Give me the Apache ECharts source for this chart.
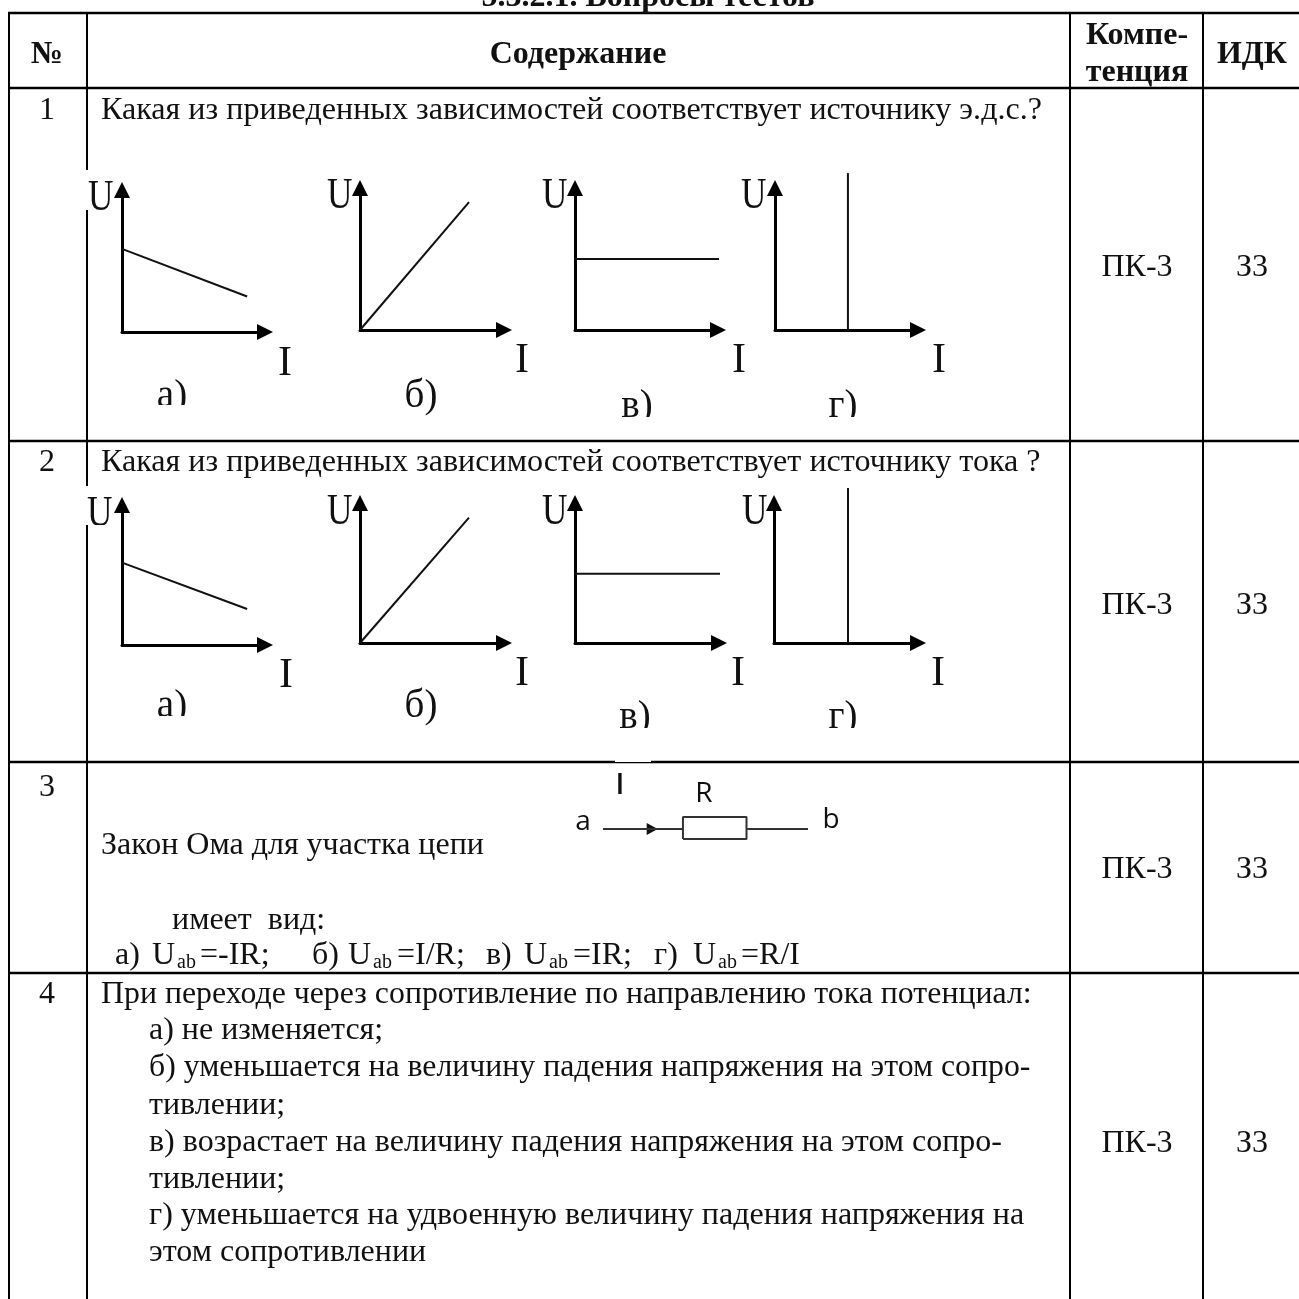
<!DOCTYPE html>
<html>
<head>
<meta charset="utf-8">
<title>Вопросы тестов</title>
<script src="https://cdn.jsdelivr.net/npm/echarts@6/dist/echarts.min.js"></script>
<style>
html, body { margin: 0; padding: 0; background: #fff; }
#main { width: 1299px; height: 1299px; }
</style>
</head>
<body>
<div id="main"></div>
<script>
// значения кривых (оси 0..10), читаются с картинки
const panelNames = ['а)', 'б)', 'в)', 'г)'];
const row1_I = [[0, 8.75], [0, 7.57], [0, 10.3], [5.1, 5.1]];
const row1_U = [[5.85, 2.5], [0, 9.0], [5.0, 5.0], [0, 11.05]];
const row2_I = [[0, 8.75], [0, 7.57], [0, 10.3], [5.14, 5.14]];
const row2_U = [[5.88, 2.57], [0, 8.95], [4.95, 4.95], [0, 11.07]];

// схема резистора (a -> R -> b)
const wire_x = [0, 39];
const wire_y = [4.5, 4.5];
const wire2_x = [70, 100];
const wire2_y = [4.5, 4.5];
const resistor_x = [39, 70, 70, 39, 39];
const resistor_y = [0, 0, 10, 10, 0];
const arrow_x = [24];
const arrow_y = [4.5];

const serif = '"Liberation Serif", "Times New Roman", serif';
const sans = '"Open Sans", sans-serif';
const BODY = 32;

// расположение графиков: начало координат, ширина, высота
const panelBoxes = [
  [122, 332, 143, 142], [360, 330, 144, 142], [575, 330, 143, 142], [775, 330, 143, 142],
  [122, 645, 143, 140], [360, 643, 144, 140], [575, 643, 144, 140], [774, 643, 144, 140]
];

// текст, x, базовая линия, выравнивание, сжатие строки
const bodyTexts = [
  ['1', 47, 119, 'center'],
  ['Какая из приведенных зависимостей соответствует источнику э.д.с.?', 101, 119, 'left', 1.003],
  ['2', 47, 471, 'center'],
  ['Какая из приведенных зависимостей соответствует источнику тока ?', 101, 471, 'left', 1.003],
  ['3', 47, 796, 'center'],
  ['Закон Ома для участка цепи', 101, 854],
  ['имеет  вид:', 172, 929],
  ['4', 47, 1003, 'center'],
  ['При переходе через сопротивление по направлению тока потенциал:', 101, 1003, 'left', 0.995],
  ['а) не изменяется;', 149, 1039],
  ['б) уменьшается на величину падения напряжения на этом сопро-', 149, 1076, 'left', 0.993],
  ['тивлении;', 149, 1114],
  ['в) возрастает на величину падения напряжения на этом сопро-', 149, 1151],
  ['тивлении;', 149, 1188],
  ['г) уменьшается на удвоенную величину падения напряжения на', 149, 1224, 'left', 1.002],
  ['этом сопротивлении', 149, 1261],
  ['ПК-3', 1137, 276, 'center'],
  ['З3', 1252, 276, 'center'],
  ['ПК-3', 1137, 614, 'center'],
  ['З3', 1252, 614, 'center'],
  ['ПК-3', 1137, 878, 'center'],
  ['З3', 1252, 878, 'center'],
  ['ПК-3', 1137, 1152, 'center'],
  ['З3', 1252, 1152, 'center']
];

const boldTexts = [
  ['5.3.2.1. Вопросы тестов', 648, 6, 'center'],
  ['№', 47, 63, 'center'],
  ['Содержание', 578, 63, 'center'],
  ['Компе-', 1137, 44, 'center'],
  ['тенция', 1137, 81, 'center'],
  ['ИДК', 1252, 63, 'center']
];

// формулы в строке ответа
const formulaTexts = [
  ['а)', 115], ['U', 152], ['=-IR;', 200],
  ['б)', 312], ['U', 348], ['=I/R;', 397],
  ['в)', 486], ['U', 524], ['=IR;', 573],
  ['г)', 654], ['U', 693], ['=R/I', 741]
];
const subX = [177, 373, 549, 718];

// подписи осей на графиках
const axisU = [[88, 210], [327, 208], [542, 208], [741, 208], [87, 526], [327, 524], [542, 524], [742, 524]];
const axisI = [[285, 375], [522, 372], [739, 372], [939, 372], [286, 687], [522, 685], [738, 685], [938, 685]];
const panelLabels = [[172, 407], [421, 407], [637, 417], [843, 417], [172, 717], [421, 717], [635, 728], [843, 728]];

const hLines = [13, 88, 441, 762, 973];
const vLines = [
  [9, 13, 1299], [87, 13, 170], [87, 210, 486], [87, 525, 1299],
  [1070, 13, 1299], [1203, 13, 1299]
];
// белые заплатки: обрезанные края картинок в оригинале
const masks = [
  [140, 405, 60, 20], [600, 417, 60, 14], [820, 417, 40, 14],
  [140, 716, 60, 20], [610, 728, 50, 14], [820, 728, 40, 14],
  [89, 525, 26, 14], [615, 760, 36, 2]
];

function textEl(t, x, y, size, opts) {
  opts = opts || {};
  return {
    type: 'text',
    z: opts.z || 10,
    x: x,
    y: y - size * 0.27,
    scaleX: opts.sx || 1,
    style: {
      text: t,
      fill: opts.fill || '#111',
      font: (opts.weight || 'normal') + ' ' + size + 'px ' + (opts.family || serif),
      textAlign: opts.align || 'left',
      textVerticalAlign: 'middle'
    }
  };
}

const graphics = [];
hLines.forEach(y => graphics.push({
  type: 'line', z: 1,
  shape: { x1: 8, y1: y, x2: 1299, y2: y },
  style: { stroke: '#000', lineWidth: 2.4 }
}));
vLines.forEach(v => graphics.push({
  type: 'line', z: 1,
  shape: { x1: v[0], y1: v[1], x2: v[0], y2: v[2] },
  style: { stroke: '#000', lineWidth: 2 }
}));
bodyTexts.forEach(t => graphics.push(textEl(t[0], t[1], t[2], BODY, { align: t[3], sx: t[4] })));
boldTexts.forEach(t => graphics.push(textEl(t[0], t[1], t[2], BODY, { align: t[3], weight: 'bold' })));
formulaTexts.forEach(t => graphics.push(textEl(t[0], t[1], 964, BODY)));
subX.forEach(x => graphics.push(textEl('ab', x, 968, 20)));
axisU.forEach(p => graphics.push(textEl('U', p[0], p[1], 44, { sx: 0.8 })));
axisI.forEach(p => graphics.push(textEl('I', p[0], p[1], 42, { align: 'center' })));
panelLabels.forEach((p, i) => graphics.push(textEl(panelNames[i % 4], p[0], p[1], 39, { align: 'center' })));
graphics.push(textEl('I', 620, 794, 29, { family: sans, align: 'center', weight: '600' }));
graphics.push(textEl('R', 704, 802, 28, { family: sans, align: 'center' }));
graphics.push(textEl('a', 583, 830, 28, { family: sans, align: 'center' }));
graphics.push(textEl('b', 831, 828, 28, { family: sans, align: 'center' }));
masks.forEach(m => graphics.push({
  type: 'rect', z: 20,
  shape: { x: m[0], y: m[1], width: m[2], height: m[3] },
  style: { fill: '#fff' }
}));

const grids = [], xAxes = [], yAxes = [], series = [];
const allI = row1_I.concat(row2_I);
const allU = row1_U.concat(row2_U);

panelBoxes.forEach((b, i) => {
  grids.push({ left: b[0], top: b[1] - b[3], width: b[2], height: b[3], show: false });
  const axisBase = {
    gridIndex: i, type: 'value', min: 0, max: 10,
    axisLine: {
      show: true, onZero: true,
      symbol: ['none', 'triangle'], symbolSize: [16, 16],
      lineStyle: { color: '#000', width: 3 }
    },
    axisTick: { show: false }, axisLabel: { show: false }, splitLine: { show: false }
  };
  xAxes.push(axisBase);
  yAxes.push(axisBase);
  series.push({
    type: 'line', xAxisIndex: i, yAxisIndex: i, silent: true, clip: false,
    showSymbol: false, z: 5,
    lineStyle: { color: '#111', width: 2 },
    data: allI[i].map((v, k) => [v, allU[i][k]])
  });
});

// сетка схемы
const n = panelBoxes.length;
grids.push({ left: 603, top: 817, width: 205, height: 22, show: false });
xAxes.push({ gridIndex: n, type: 'value', min: 0, max: 100, show: false });
yAxes.push({ gridIndex: n, type: 'value', min: 0, max: 10, show: false });
[[wire_x, wire_y], [wire2_x, wire2_y], [resistor_x, resistor_y]].forEach(p => series.push({
  type: 'line', xAxisIndex: n, yAxisIndex: n, silent: true, clip: false, showSymbol: false,
  lineStyle: { color: '#333', width: 2 },
  data: p[0].map((v, k) => [v, p[1][k]])
}));
series.push({
  type: 'scatter', xAxisIndex: n, yAxisIndex: n, silent: true,
  symbol: 'triangle', symbolRotate: -90, symbolSize: [12, 11],
  itemStyle: { color: '#111', opacity: 1 },
  data: arrow_x.map((v, k) => [v, arrow_y[k]])
});

const chart = echarts.init(document.getElementById('main'), null, { renderer: 'canvas' });
chart.setOption({
  animation: false,
  backgroundColor: '#fff',
  tooltip: { show: false },
  grid: grids,
  xAxis: xAxes,
  yAxis: yAxes,
  series: series,
  graphic: graphics
});
</script>
</body>
</html>
